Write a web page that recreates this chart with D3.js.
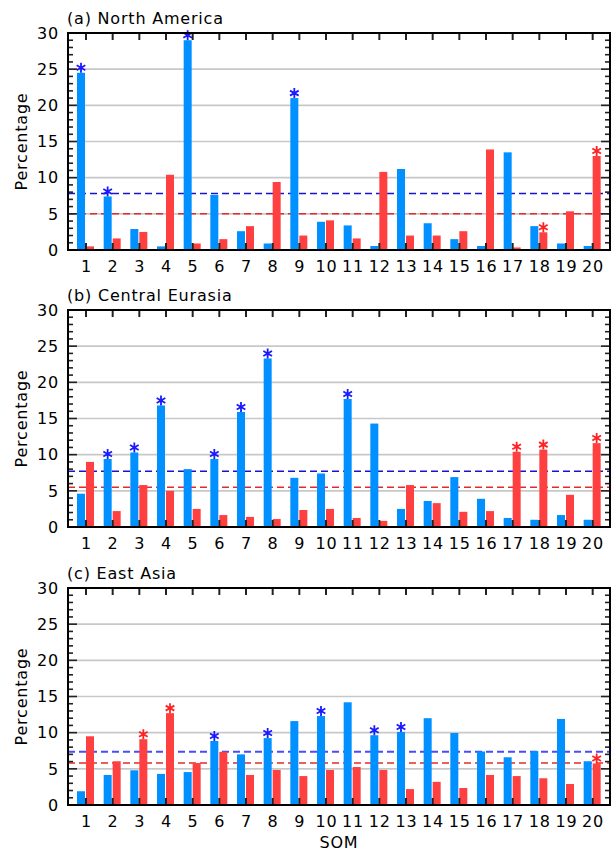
<!DOCTYPE html>
<html>
<head>
<meta charset="utf-8">
<script src="https://cdn.jsdelivr.net/npm/d3@7"></script>
<style>
    body { margin: 0; background: #fff; }
    svg { display: block; font-family: 'DejaVu Sans', sans-serif; }
    text { letter-spacing: 0.8px; }
</style>
</head>
<body>
<div id="chart"></div>
<script>
// SOM nodes on the x axis
const soms = d3.range(1, 21)
const yTicks = [0, 5, 10, 15, 20, 25, 30]

// (a) North America
const naBlue = [24.5, 7.4, 2.9, 0.5, 29.0, 7.6, 2.6, 0.9, 21.0, 3.9, 3.4, 0.55, 11.2, 3.7, 1.5, 0.55, 13.5, 3.3, 0.9, 0.55]
const naRed = [0.5, 1.6, 2.5, 10.4, 0.9, 1.5, 3.3, 9.4, 2.0, 4.1, 1.6, 10.8, 2.0, 2.0, 2.6, 13.9, 0.35, 2.45, 5.35, 13.0]
const naMean = [7.8, 5.0]
const naStarBlue = [1, 2, 5, 9]
const naStarRed = [18, 20]

// (b) Central Eurasia
const ceBlue = [4.6, 9.4, 10.3, 16.8, 8.0, 9.4, 15.9, 23.3, 6.8, 7.4, 17.7, 14.3, 2.5, 3.6, 6.9, 3.9, 1.25, 1.0, 1.65, 1.0]
const ceRed = [9.0, 2.2, 5.8, 5.0, 2.5, 1.65, 1.4, 1.1, 2.35, 2.5, 1.25, 0.85, 5.8, 3.3, 2.1, 2.2, 10.4, 10.7, 4.45, 11.6]
const ceMean = [7.7, 5.5]
const ceStarBlue = [2, 3, 4, 6, 7, 8, 11]
const ceStarRed = [17, 18, 20]

// (c) East Asia
const eaBlue = [1.9, 4.15, 4.8, 4.3, 4.55, 8.85, 7.0, 9.25, 11.6, 12.3, 14.2, 9.65, 10.1, 12.0, 9.95, 7.4, 6.6, 7.45, 11.9, 6.05]
const eaRed = [9.5, 6.05, 9.1, 12.7, 5.8, 7.35, 4.15, 4.85, 4.0, 4.85, 5.25, 4.85, 2.2, 3.2, 2.35, 4.15, 4.0, 3.7, 2.9, 5.75]
const eaMean = [7.35, 5.8]
const eaStarBlue = [6, 8, 10, 12, 13]
const eaStarRed = [3, 4, 20]

const panels = [
    { title: '(a) North America', blue: naBlue, red: naRed, mean: naMean, starBlue: naStarBlue, starRed: naStarRed, top: 33 },
    { title: '(b) Central Eurasia', blue: ceBlue, red: ceRed, mean: ceMean, starBlue: ceStarBlue, starRed: ceStarRed, top: 310 },
    { title: '(c) East Asia', blue: eaBlue, red: eaRed, mean: eaMean, starBlue: eaStarBlue, starRed: eaStarRed, top: 588 }
]

const width = 615, height = 851
const left = 68, right = 610, plotH = 217
const barW = 8
const fontSize = '16px'

const colors = {
    blue: '#0090ff',
    red: '#ff4040',
    meanBlue: ['#1414d2', '#1414d2', '#4a4aff'],
    meanRed: '#e32a2a',
    starBlue: '#1a1aff',
    starRed: '#ff2222',
    grid: '#c8c8c8'
}

const svg = d3.select('#chart').append('svg')
    .attr('width', width)
    .attr('height', height)

const x = d3.scaleLinear()
    .domain([0.325, 20.65])
    .range([left, right])

// six-armed asterisk used to flag significant nodes
function star(cx, cy, r) {
    let p = ''
    ;[90, 30, 150].forEach(a => {
        let dx = r * Math.cos(a * Math.PI / 180), dy = r * Math.sin(a * Math.PI / 180)
        p += `M${cx - dx},${cy - dy}L${cx + dx},${cy + dy}`
    })
    return p
}

panels.forEach((panel, k) => {

    let y = d3.scaleLinear()
        .domain([0, 30])
        .range([panel.top + plotH, panel.top])

    let g = svg.append('g')

    // grid lines
    g.selectAll('line.grid')
        .data([5, 10, 15, 20, 25])
        .join('line')
        .attr('x1', left).attr('x2', right)
        .attr('y1', d => y(d)).attr('y2', d => y(d))
        .attr('stroke', colors.grid)
        .attr('stroke-width', 1.6)

    // mean levels
    g.append('line')
        .attr('x1', left).attr('x2', right)
        .attr('y1', y(panel.mean[0])).attr('y2', y(panel.mean[0]))
        .attr('stroke', colors.meanBlue[k])
        .attr('stroke-width', k === 2 ? 2 : 1.5)
        .attr('stroke-dasharray', '7,4')
    g.append('line')
        .attr('x1', left).attr('x2', right)
        .attr('y1', y(panel.mean[1])).attr('y2', y(panel.mean[1]))
        .attr('stroke', colors.meanRed)
        .attr('stroke-width', 1.5)
        .attr('stroke-dasharray', '7,4')

    // bars
    g.selectAll('rect.blue')
        .data(panel.blue)
        .join('rect')
        .attr('x', (d, i) => x(soms[i]) - barW - 1)
        .attr('y', d => y(d))
        .attr('width', barW)
        .attr('height', d => y(0) - y(d))
        .attr('fill', colors.blue)

    g.selectAll('rect.red')
        .data(panel.red)
        .join('rect')
        .attr('x', (d, i) => x(soms[i]))
        .attr('y', d => y(d))
        .attr('width', barW)
        .attr('height', d => y(0) - y(d))
        .attr('fill', colors.red)

    // significance markers
    g.selectAll('path.sb')
        .data(panel.starBlue)
        .join('path')
        .attr('d', s => star(x(s) - barW / 2 - 1, y(panel.blue[s - 1]) - 5, 5))
        .attr('stroke', colors.starBlue)
        .attr('stroke-width', 1.8)

    g.selectAll('path.sr')
        .data(panel.starRed)
        .join('path')
        .attr('d', s => star(x(s) + barW / 2, y(panel.red[s - 1]) - 5, 5))
        .attr('stroke', colors.starRed)
        .attr('stroke-width', 1.8)

    // category ticks, top and bottom, inward
    g.selectAll('line.tb')
        .data(soms)
        .join('line')
        .attr('x1', d => x(d)).attr('x2', d => x(d))
        .attr('y1', y(0)).attr('y2', y(0) - 7)
        .attr('stroke', '#222')
        .attr('stroke-width', 2)
    g.selectAll('line.tt')
        .data(soms)
        .join('line')
        .attr('x1', d => x(d)).attr('x2', d => x(d))
        .attr('y1', y(30)).attr('y2', y(30) + 7)
        .attr('stroke', '#222')
        .attr('stroke-width', 2)

    // minor/major y ticks on both sides
    let yt = d3.range(0, 31)
    g.selectAll('line.yl')
        .data(yt)
        .join('line')
        .attr('x1', left).attr('x2', d => left + (d % 5 === 0 ? 9 : 5))
        .attr('y1', d => y(d)).attr('y2', d => y(d))
        .attr('stroke', '#222')
        .attr('stroke-width', 1.6)
    g.selectAll('line.yr')
        .data(yt)
        .join('line')
        .attr('x1', right).attr('x2', d => right - (d % 5 === 0 ? 9 : 5))
        .attr('y1', d => y(d)).attr('y2', d => y(d))
        .attr('stroke', '#222')
        .attr('stroke-width', 1.6)

    // frame
    g.append('rect')
        .attr('x', left).attr('y', panel.top)
        .attr('width', right - left).attr('height', plotH)
        .attr('fill', 'none')
        .attr('stroke', '#000')
        .attr('stroke-width', 2)

    // labels
    g.selectAll('text.yl')
        .data(yTicks)
        .join('text')
        .attr('x', left - 9)
        .attr('y', d => y(d))
        .attr('dy', '0.36em')
        .attr('text-anchor', 'end')
        .attr('font-size', fontSize)
        .text(d => d)

    g.selectAll('text.xl')
        .data(soms)
        .join('text')
        .attr('x', d => x(d) + 0.4)
        .attr('y', y(0) + 22)
        .attr('text-anchor', 'middle')
        .attr('font-size', fontSize)
        .text(d => d)

    g.append('text')
        .attr('x', left - 1)
        .attr('y', panel.top - 9)
        .attr('font-size', fontSize)
        .text(panel.title)

    g.append('text')
        .attr('transform', `translate(27, ${panel.top + plotH / 2}) rotate(-90)`)
        .attr('text-anchor', 'middle')
        .attr('font-size', fontSize)
        .text('Percentage')
})

svg.append('text')
    .attr('x', (left + right) / 2)
    .attr('y', 848)
    .attr('text-anchor', 'middle')
    .attr('font-size', fontSize)
    .text('SOM')
</script>
</body>
</html>
